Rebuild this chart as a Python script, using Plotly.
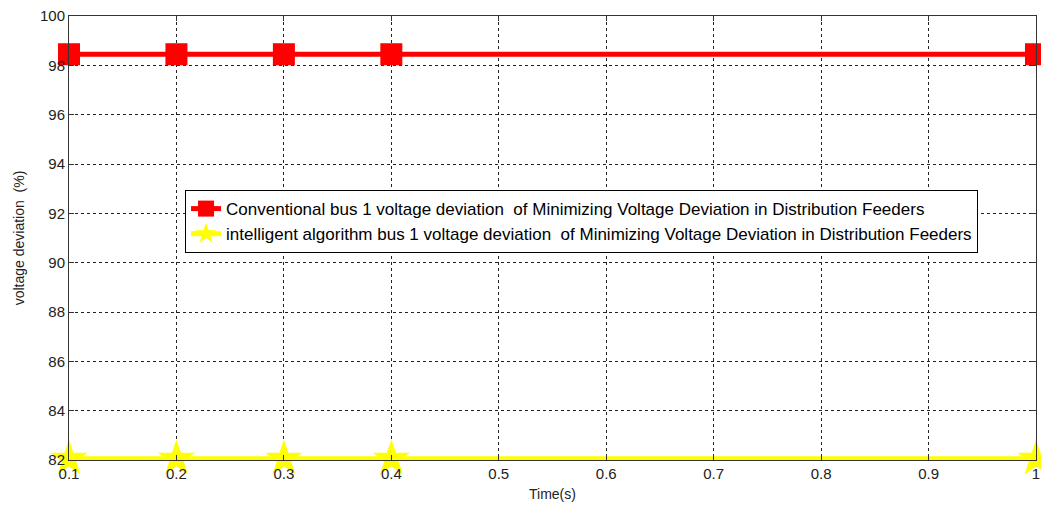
import plotly.graph_objects as go

time_s = [0.1, 0.2, 0.3, 0.4, 1.0]
conventional = [98.45, 98.45, 98.45, 98.45, 98.45]
intelligent = [82.05, 82.05, 82.05, 82.05, 82.05]
x_ticks = [0.1, 0.2, 0.3, 0.4, 0.5, 0.6, 0.7, 0.8, 0.9, 1]
x_tick_text = ["0.1", "0.2", "0.3", "0.4", "0.5", "0.6", "0.7", "0.8", "0.9", "1"]
y_ticks = [82, 84, 86, 88, 90, 92, 94, 96, 98, 100]

name_conv = "Conventional bus 1 voltage deviation\u00a0 of Minimizing Voltage Deviation in Distribution Feeders"
name_int = "intelligent algorithm bus 1 voltage deviation\u00a0 of Minimizing Voltage Deviation in Distribution Feeders"

FONT = "Liberation Sans, Arial, sans-serif"

fig = go.Figure()
fig.add_trace(go.Scatter(
    x=time_s, y=conventional, mode="lines+markers", name=name_conv,
    line=dict(color="#ff0000", width=5),
    marker=dict(symbol="square", size=22, color="#ff0000"),
    cliponaxis=False,
))
fig.add_trace(go.Scatter(
    x=time_s, y=intelligent, mode="lines+markers", name=name_int,
    line=dict(color="#ffff00", width=5),
    marker=dict(symbol="star", size=28, color="#ffff00"),
    cliponaxis=False,
))

axis_common = dict(
    showline=True, linecolor="#333333", linewidth=1, mirror="ticks",
    ticks="inside", ticklen=5, tickcolor="#333333",
    showgrid=True, gridcolor="#222222", gridwidth=1, griddash="3px,3px",
    zeroline=False, automargin=False,
    tickfont=dict(family=FONT, size=15, color="#222222"),
)

fig.update_xaxes(
    range=[0.1, 1], tickvals=x_ticks, ticktext=x_tick_text,
    title=dict(text="Time(s)", font=dict(family=FONT, size=14, color="#222222"), standoff=8),
    **axis_common,
)
fig.update_yaxes(
    range=[82, 100], tickvals=y_ticks,
    title=dict(text="voltage deviation\u00a0 (%)", font=dict(family=FONT, size=14, color="#222222"), standoff=12),
    **axis_common,
)

fig.update_layout(
    width=1041, height=505,
    margin=dict(l=69, r=5, t=16, b=45, autoexpand=False),
    paper_bgcolor="white", plot_bgcolor="white",
    showlegend=True,
    legend=dict(
        x=0.12, y=0.608, xanchor="left", yanchor="top",
        bgcolor="white", bordercolor="#000000", borderwidth=1,
        font=dict(family=FONT, size=17, color="#000000"),
        tracegroupgap=0, itemsizing="trace",
    ),
)

fig.write_html("out.html")
